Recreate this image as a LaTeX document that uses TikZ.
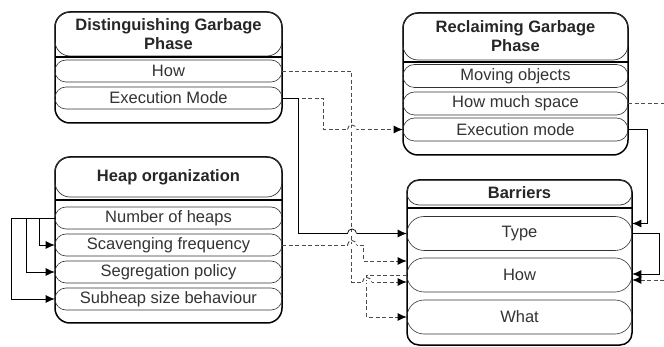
\documentclass[tikz,border=0pt]{standalone}
\usepackage{fontspec}
\setmainfont{Liberation Sans}
\usetikzlibrary{arrows.meta}

\newcommand{\zeilenschrift}{\fontsize{16.5}{19}\selectfont}
% Sprung einer waagrechten Linie über eine senkrechte
\newcommand{\sprung}[3][]{%
	\fill[white] (#2-4.5,#3-1.3) rectangle (#2+4.5,#3+1.3);
	\draw[#1] (#2-4.5,#3) arc (180:360:4.5);
}

\begin{document}
\begin{tikzpicture}[x=1pt, y=-1pt,
	rahmen/.style={draw=black, line width=1.5pt, rounded corners=15pt},
	kopf/.style={draw=black!80, line width=0.7pt, rounded corners=15pt, inner sep=0pt, align=center, font=\zeilenschrift\bfseries, text=black!85},
	trenner/.style={black, line width=1.8pt},
	zeile/.style={draw=black!80, line width=0.6pt, inner sep=0pt, font=\zeilenschrift, text=black!80},
	linie/.style={black, line width=0.7pt},
	strich/.style={black!70, line width=0.9pt, dash pattern=on 4pt off 2.5pt},
	pfeil/.style={-{Latex[length=9pt,width=8pt,color=black]}}
	]
	
	\useasboundingbox (0,0) rectangle (664,347);
	
	% Distinguishing Garbage Phase
	\draw[rahmen] (55,12) rectangle (282,123);
	\node[kopf, minimum width=227pt, minimum height=44pt] (dKopf) at (168.5,34) {Distinguishing Garbage\\Phase};
	\draw[trenner] (55,57) -- (282,57);
	\node[zeile, minimum width=227pt, minimum height=22pt, rounded corners=11pt] (dHow) at (168.5,71) {How};
	\node[zeile, minimum width=227pt, minimum height=22pt, rounded corners=11pt] (dExec) at (168.5,98) {Execution Mode};
	
	% Reclaiming Garbage Phase
	\draw[rahmen] (403,13) rectangle (628,155);
	\node[kopf, minimum width=225pt, minimum height=47pt] (rKopf) at (515.5,36.5) {Reclaiming Garbage\\Phase};
	\draw[trenner] (403,62) -- (628,62);
	\node[zeile, minimum width=225pt, minimum height=23pt, rounded corners=11.5pt] (rMove) at (515.5,76) {Moving objects};
	\node[zeile, minimum width=225pt, minimum height=23pt, rounded corners=11.5pt] (rSpace) at (515.5,103.5) {How much space};
	\node[zeile, minimum width=225pt, minimum height=23pt, rounded corners=11.5pt] (rExec) at (515.5,129.5) {Execution mode};
	
	% Heap organization
	\draw[rahmen] (55,157) rectangle (282,323);
	\node[kopf, minimum width=227pt, minimum height=40pt] (hKopf) at (168.5,177) {Heap organization};
	\draw[trenner] (55,200) -- (282,200);
	\node[zeile, minimum width=227pt, minimum height=22pt, rounded corners=11pt] (hNum) at (168.5,218) {Number of heaps};
	\node[zeile, minimum width=227pt, minimum height=22pt, rounded corners=11pt] (hScav) at (168.5,245) {Scavenging frequency};
	\node[zeile, minimum width=227pt, minimum height=22pt, rounded corners=11pt] (hSeg) at (168.5,272) {Segregation policy};
	\node[zeile, minimum width=227pt, minimum height=22pt, rounded corners=11pt] (hSub) at (168.5,299) {Subheap size behaviour};
	
	% Barriers
	\draw[rahmen, rounded corners=12pt] (407,180) rectangle (632,345);
	\node[kopf, rounded corners=12pt, minimum width=225pt, minimum height=25pt] (bKopf) at (519.5,192.5) {Barriers};
	\draw[trenner] (407,208) -- (632,208);
	\node[zeile, minimum width=225pt, minimum height=34pt, rounded corners=17pt] (bType) at (519.5,233.5) {Type};
	\node[zeile, minimum width=225pt, minimum height=34pt, rounded corners=17pt] (bHow) at (519.5,275) {How};
	\node[zeile, minimum width=225pt, minimum height=34pt, rounded corners=17pt] (bWhat) at (519.5,317) {What};
	
	% Freie Enden am rechten Rand
	\coordinate (randOben) at (664,103.5);
	\coordinate (randUnten) at (664,280);
	
	% Verbindungen gestrichelt
	\draw[strich, pfeil] (dHow.east) -| ([xshift=-55pt,yshift=-7pt]bHow.west) -- ([yshift=-7pt]bHow.west);
	\draw[strich, pfeil] (dExec.east) -- ++(41,0) |- (rExec.west);
	\draw[strich, pfeil] (hScav.east) -- ++(81,0) |- ([yshift=14pt]bHow.west);
	\draw[strich, pfeil] (bHow.west) -- ++(-40,0) |- (bWhat.west);
	\draw[strich] (rSpace.east) -- (randOben);
	\draw[strich, pfeil] (randUnten) -- ([yshift=-5pt]bHow.east);
	
	% Verbindungen durchgezogen
	\draw[linie, pfeil] (dExec.east) -- ++(16,0) |- (bType.west);
	\draw[linie, pfeil] (rExec.east) -- ++(19,0) |- ([yshift=10pt]bType.east);
	\draw[linie, pfeil] (bType.east) -- ++(27,0) |- ([yshift=1pt]bHow.east);
	
	% Heap: Verweise auf der linken Seite
	\draw[linie, pfeil] (hNum.west) -- ++(-15,0) |- (hScav.west);
	\draw[linie, pfeil] (hNum.west) -- ++(-28,0) |- (hSeg.west);
	\draw[linie, pfeil] (hNum.west) -- ++(-43,0) |- (hSub.west);
	
	% Sprünge an den Kreuzungen
	\sprung[strich]{352}{129.5}
	\sprung[linie]{352}{233.5}
	\sprung[strich]{352}{245}
	\sprung[strich]{367}{282}
	
\end{tikzpicture}
\end{document}
